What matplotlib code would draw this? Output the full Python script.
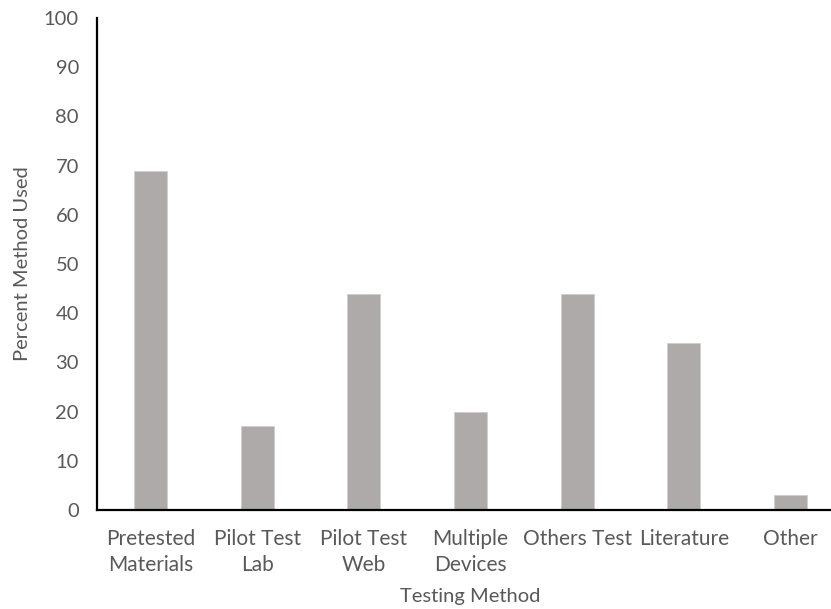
import matplotlib
matplotlib.use("Agg")
import matplotlib.pyplot as plt

# survey results: share of respondents using each testing method
methods = ["Pretested\nMaterials", "Pilot Test\nLab", "Pilot Test\nWeb",
           "Multiple\nDevices", "Others Test", "Literature", "Other"]
percent_used = [69, 17, 44, 20, 44, 34, 3]
y_ticks = list(range(0, 101, 10))

BAR = "#AEAAAA"
TXT = "#595959"

plt.rcParams["font.family"] = ["Lato", "DejaVu Sans"]

fig = plt.figure(figsize=(8.31, 6.09), dpi=100)
# plot area runs a little past the right edge of the canvas
ax = fig.add_axes([97 / 831, 1 - 510 / 609, 747 / 831, 492 / 609])

x = range(len(methods))
ax.bar(x, percent_used, width=0.31, color=BAR, edgecolor="#D0CECE", linewidth=0.6, zorder=2)

ax.set_xlim(-0.5, len(methods) - 0.5)
ax.set_ylim(0, 100)
ax.set_yticks(y_ticks)
ax.set_xticks(list(x))
ax.set_xticklabels(methods, linespacing=1.33)

for side in ("top", "right"):
    ax.spines[side].set_visible(False)
for side in ("left", "bottom"):
    ax.spines[side].set_color("black")
    ax.spines[side].set_linewidth(1.6)

ax.tick_params(axis="both", length=0, colors=TXT)
ax.tick_params(axis="y", pad=13, labelsize=14.5)
ax.tick_params(axis="x", pad=14, labelsize=15)

ax.set_ylabel("Percent Method Used", fontsize=14.5, color=TXT)
ax.set_xlabel("Testing Method", fontsize=14.5, color=TXT)
ax.yaxis.set_label_coords(-0.088, 0.5)
ax.xaxis.set_label_coords(0.5, -0.158)

fig.savefig("out.png", dpi=100)
